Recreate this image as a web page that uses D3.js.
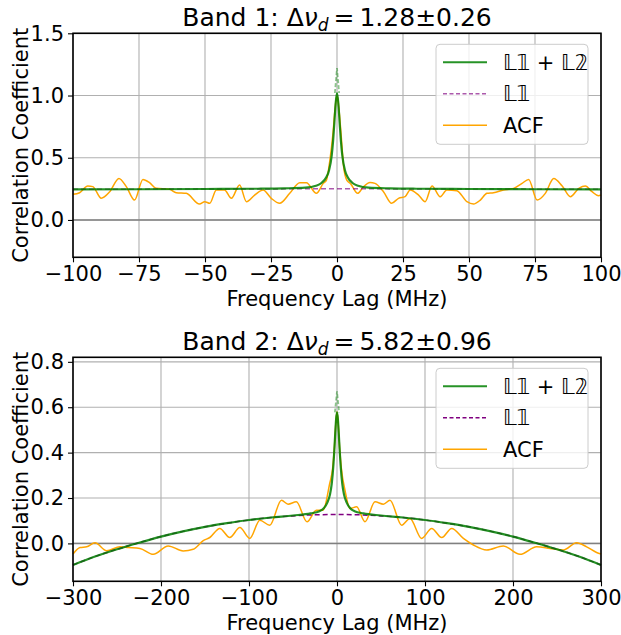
<!DOCTYPE html>
<html>
<head>
<meta charset="utf-8">
<script src="https://cdn.jsdelivr.net/npm/d3@7"></script>
<style>
  body { margin: 0; background: #fff; }
  svg { font-family: "DejaVu Sans", sans-serif; }
</style>
</head>
<body>
<div id="chart"></div>
<script>
// ---- data ----
var titles = ["1.28\u00b10.26", "5.82\u00b10.96"];
var bandNames = ["Band 1: \u0394", "Band 2: \u0394"];
var legendLabels = ["\ud835\udd43\ud835\udfd9 + \ud835\udd43\ud835\udfda", "\ud835\udd43\ud835\udfd9", "ACF"];

var xTicks1 = [-100, -75, -50, -25, 0, 25, 50, 75, 100];
var yTicks1 = [0.0, 0.5, 1.0, 1.5];
var xTicks2 = [-300, -200, -100, 0, 100, 200, 300];
var yTicks2 = [0.0, 0.2, 0.4, 0.6, 0.8];

// band 1 ACF
var acfLag1 = [-100, -97.5, -94.4, -92.5, -89.3, -86.1, -82.6, -79.8, -76.7, -73.5, -71, -68.5, -63.4, -60.9,
  -57.1, -52.1, -50.1, -48.2, -45.7, -42.6, -40, -36.9, -34.3, -31.2, -28, -24.9, -21.7, -17.9, -14.1, -11.6,
  -7.8, -5.2, -4, -2.7, -1.5, -0.7, 0, 0.7, 1.5, 2.5, 3.7, 5.2, 7.8, 10, 12.5, 14.4, 17.6, 20.7, 23.3, 25.8, 27.7,
  30.9, 33.4, 36, 39.1, 41.6, 45.4, 49.2, 51.7, 54.3, 56.8, 59.3, 63.1, 66.9, 70.1, 72.6, 75.8, 78.9, 82.1,
  85.3, 88.4, 91.6, 94.1, 96.6, 99, 100];
var acf1 = [0.206, 0.219, 0.273, 0.268, 0.174, 0.226, 0.334, 0.268, 0.160, 0.326, 0.300, 0.254, 0.246, 0.219,
  0.214, 0.128, 0.147, 0.134, 0.241, 0.241, 0.174, 0.281, 0.147, 0.200, 0.241, 0.174, 0.134, 0.214, 0.300, 0.300,
  0.214, 0.294, 0.320, 0.480, 0.700, 0.900, 1.000, 0.900, 0.700, 0.430, 0.320, 0.290, 0.214, 0.267, 0.302, 0.294,
  0.227, 0.134, 0.174, 0.187, 0.241, 0.200, 0.147, 0.273, 0.187, 0.241, 0.235, 0.147, 0.128, 0.160, 0.214,
  0.219, 0.241, 0.254, 0.294, 0.326, 0.160, 0.214, 0.334, 0.273, 0.187, 0.254, 0.273, 0.227, 0.195, 0.200];

// band 1 fit (L1 + L2) and L1
var fitLag1 = [-100, -75, -50, -30, -20, -12, -8, -6, -4, -3, -2, -1.5, -1, -0.5, 0, 0.5, 1, 1.5, 2, 3, 4, 6, 8, 12, 20, 30, 50, 75, 100];
var fit1 = [0.246, 0.247, 0.249, 0.251, 0.254, 0.260, 0.275, 0.295, 0.345, 0.400, 0.520, 0.630, 0.780, 0.940, 1.020,
  0.940, 0.780, 0.630, 0.520, 0.400, 0.345, 0.295, 0.275, 0.260, 0.254, 0.251, 0.249, 0.247, 0.246];
var l1Lag1 = [-100, -50, 0, 50, 100];
var l11 = [0.246, 0.249, 0.250, 0.249, 0.246];

// band 2 ACF
var acfLag2 = [-300, -292, -284.5, -275, -261.8, -246.6, -237.2, -224, -208.8, -191.8, -174.8, -163.4, -152, -144.5,
  -133.2, -121.8, -110.4, -99.1, -87.7, -76.4, -63.1, -55.6, -46.2, -34.1, -23.5, -15.9, -8.3, -5, -3, -1.5, 0,
  1.5, 3, 5, 9.1, 14.8, 22.3, 31.8, 43.2, 52.7, 60.2, 73.5, 82.9, 96.2, 107.6, 119, 130.3, 143.6, 155, 170.1,
  189, 208, 226.9, 242, 257.2, 272.3, 283.7, 295, 300];
var acf2 = [-0.047, -0.018, -0.015, 0.003, -0.032, -0.015, -0.018, -0.022, -0.048, -0.011, -0.033, -0.026, 0.012, 0.026,
  0.066, 0.026, 0.070, 0.022, 0.102, 0.080, 0.190, 0.173, 0.183, 0.095, 0.146, 0.146, 0.264, 0.330, 0.420, 0.520, 0.580,
  0.520, 0.420, 0.330, 0.234, 0.154, 0.161, 0.095, 0.183, 0.173, 0.190, 0.080, 0.110, 0.022, 0.066, 0.026, 0.066,
  0.022, -0.007, -0.029, -0.011, -0.048, -0.015, -0.022, -0.029, 0.003, -0.015, -0.040, -0.047];

// band 2 fit (L1 + L2) and L1
var fitLag2 = [-300, -275, -250, -225, -200, -175, -150, -125, -100, -75, -50, -30, -20, -15, -11, -8, -6, -4, -3, -2, -1, 0,
  1, 2, 3, 4, 6, 8, 11, 15, 20, 30, 50, 75, 100, 125, 150, 175, 200, 225, 250, 275, 300];
var fit2 = [-0.095, -0.058, -0.026, 0.003, 0.030, 0.053, 0.073, 0.089, 0.103, 0.114, 0.123, 0.132, 0.142, 0.155, 0.180,
  0.215, 0.262, 0.350, 0.413, 0.485, 0.548, 0.577, 0.548, 0.485, 0.413, 0.350, 0.262, 0.215, 0.180, 0.155, 0.142,
  0.132, 0.123, 0.114, 0.103, 0.089, 0.073, 0.053, 0.030, 0.003, -0.026, -0.058, -0.095];
var l1Lag2 = [-300, -275, -250, -225, -200, -175, -150, -125, -100, -75, -50, -25, 0, 25, 50, 75, 100, 125, 150, 175, 200, 225, 250, 275, 300];
var l12 = [-0.095, -0.058, -0.026, 0.003, 0.030, 0.053, 0.073, 0.089, 0.103, 0.114, 0.121, 0.126, 0.127,
  0.126, 0.121, 0.114, 0.103, 0.089, 0.073, 0.053, 0.030, 0.003, -0.026, -0.058, -0.095];

// faint tip above each fitted peak
var tipPeak = [1.02, 0.577];
var tipTop = [1.22, 0.67];

var width = 621, height = 635;
var svg = d3.select("#chart").append("svg")
  .attr("width", width)
  .attr("height", height);

function zip(xs, ys) {
  return xs.map(function(v, i) { return [v, ys[i]]; });
}

var panels = [
  {top: 33.3, xDomain: [-100, 100], yDomain: [-0.3, 1.5], xTicks: xTicks1, yTicks: yTicks1,
   acf: zip(acfLag1, acf1), fit: zip(fitLag1, fit1), l1: zip(l1Lag1, l11), purpleOpacity: 0.65, idx: 0},
  {top: 357.3, xDomain: [-300, 300], yDomain: [-0.167, 0.82], xTicks: xTicks2, yTicks: yTicks2,
   acf: zip(acfLag2, acf2), fit: zip(fitLag2, fit2), l1: zip(l1Lag2, l12), purpleOpacity: 1, idx: 1}
];

var left = 73, right = 601, ph = 224;
var fs = 21;

panels.forEach(function(p) {
  var g = svg.append("g");
  var x = d3.scaleLinear().domain(p.xDomain).range([left, right]);
  var y = d3.scaleLinear().domain(p.yDomain).range([p.top + ph, p.top]);

  // grid
  g.selectAll("line.vgrid").data(p.xTicks).enter().append("line")
    .attr("x1", function(d) { return x(d); }).attr("x2", function(d) { return x(d); })
    .attr("y1", p.top).attr("y2", p.top + ph)
    .attr("stroke", "#b0b0b0").attr("stroke-width", 1.1);
  g.selectAll("line.hgrid").data(p.yTicks).enter().append("line")
    .attr("x1", left).attr("x2", right)
    .attr("y1", function(d) { return y(d); }).attr("y2", function(d) { return y(d); })
    .attr("stroke", "#b0b0b0").attr("stroke-width", 1.1);

  // zero line
  g.append("line")
    .attr("x1", left).attr("x2", right)
    .attr("y1", y(0)).attr("y2", y(0))
    .attr("stroke", "#808080").attr("stroke-width", 1.5);

  var line = d3.line()
    .x(function(d) { return x(d[0]); })
    .y(function(d) { return y(d[1]); });

  g.append("path").datum(p.acf)
    .attr("d", line.curve(d3.curveMonotoneX))
    .attr("fill", "none").attr("stroke", "orange").attr("stroke-width", 1.5);

  g.append("path").datum(p.l1)
    .attr("d", line.curve(d3.curveMonotoneX))
    .attr("fill", "none").attr("stroke", "purple").attr("stroke-width", 1.5)
    .attr("stroke-dasharray", "5,3").attr("stroke-opacity", p.purpleOpacity);

  // faint tip above the peak
  var half = 0.004 * (p.xDomain[1] - p.xDomain[0]);
  g.append("path")
    .datum([[-half, tipPeak[p.idx]], [0, tipTop[p.idx]], [half, tipPeak[p.idx]]])
    .attr("d", line.curve(d3.curveLinear))
    .attr("fill", "none").attr("stroke", "green").attr("stroke-width", 1.8)
    .attr("stroke-opacity", 0.45).attr("stroke-dasharray", "4,2");

  g.append("path").datum(p.fit)
    .attr("d", line.curve(d3.curveMonotoneX))
    .attr("fill", "none").attr("stroke", "green").attr("stroke-width", 2.2)
    .attr("stroke-opacity", 0.85);

  // axes
  var xAxis = g.append("g")
    .attr("transform", "translate(0," + (p.top + ph) + ")")
    .call(d3.axisBottom(x).tickValues(p.xTicks).tickSize(5).tickPadding(4).tickSizeOuter(0).tickFormat(d3.format("d")));
  var yAxis = g.append("g")
    .attr("transform", "translate(" + left + ",0)")
    .call(d3.axisLeft(y).tickValues(p.yTicks).tickSize(5).tickPadding(4).tickSizeOuter(0).tickFormat(d3.format(".1f")));
  [xAxis, yAxis].forEach(function(a) {
    a.select(".domain").remove();
    a.selectAll(".tick line").attr("stroke", "#000").attr("stroke-width", 1.1);
    a.selectAll(".tick text").attr("font-size", fs).attr("fill", "#000")
      .attr("font-family", "DejaVu Sans");
  });

  // frame
  g.append("rect")
    .attr("x", left).attr("y", p.top).attr("width", right - left).attr("height", ph)
    .attr("fill", "none").attr("stroke", "#000").attr("stroke-width", 1.6);

  // labels
  g.append("text")
    .attr("x", (left + right) / 2).attr("y", p.top + ph + 49)
    .attr("text-anchor", "middle").attr("font-size", fs)
    .text("Frequency Lag (MHz)");
  g.append("text")
    .attr("transform", "translate(28," + (p.top + ph / 2) + ") rotate(-90)")
    .attr("text-anchor", "middle").attr("font-size", fs)
    .text("Correlation Coefficient");

  var t = g.append("text")
    .attr("x", (left + right) / 2).attr("y", p.top - 7)
    .attr("text-anchor", "middle").attr("font-size", 25);
  t.append("tspan").text(bandNames[p.idx]);
  t.append("tspan").attr("font-style", "italic").text("\u03bd");
  t.append("tspan").attr("font-style", "italic").attr("font-size", 17).attr("dy", 5).text("d");
  t.append("tspan").attr("dy", -5).text("\u2009=\u2009" + titles[p.idx]);

  // legend
  var lg = g.append("g").attr("transform", "translate(436," + (p.top + 11) + ")");
  lg.append("rect")
    .attr("width", 152).attr("height", 100).attr("rx", 4)
    .attr("fill", "#fff").attr("fill-opacity", 0.8)
    .attr("stroke", "#cccccc").attr("stroke-width", 1);
  var styles = [
    {stroke: "green", dash: null, op: 0.85, w: 2},
    {stroke: "purple", dash: "4,2.5", op: p.purpleOpacity, w: 1.5},
    {stroke: "orange", dash: null, op: 1, w: 1.5}
  ];
  legendLabels.forEach(function(lab, i) {
    var yy = 18 + i * 31.5;
    lg.append("line")
      .attr("x1", 7).attr("x2", 51).attr("y1", yy).attr("y2", yy)
      .attr("stroke", styles[i].stroke).attr("stroke-width", styles[i].w)
      .attr("stroke-opacity", styles[i].op)
      .attr("stroke-dasharray", styles[i].dash);
    lg.append("text")
      .attr("x", 67).attr("y", yy + 7.5)
      .attr("font-size", fs)
      .attr("font-style", i < 2 ? "italic" : null)
      .text(lab);
  });
});
</script>
</body>
</html>
